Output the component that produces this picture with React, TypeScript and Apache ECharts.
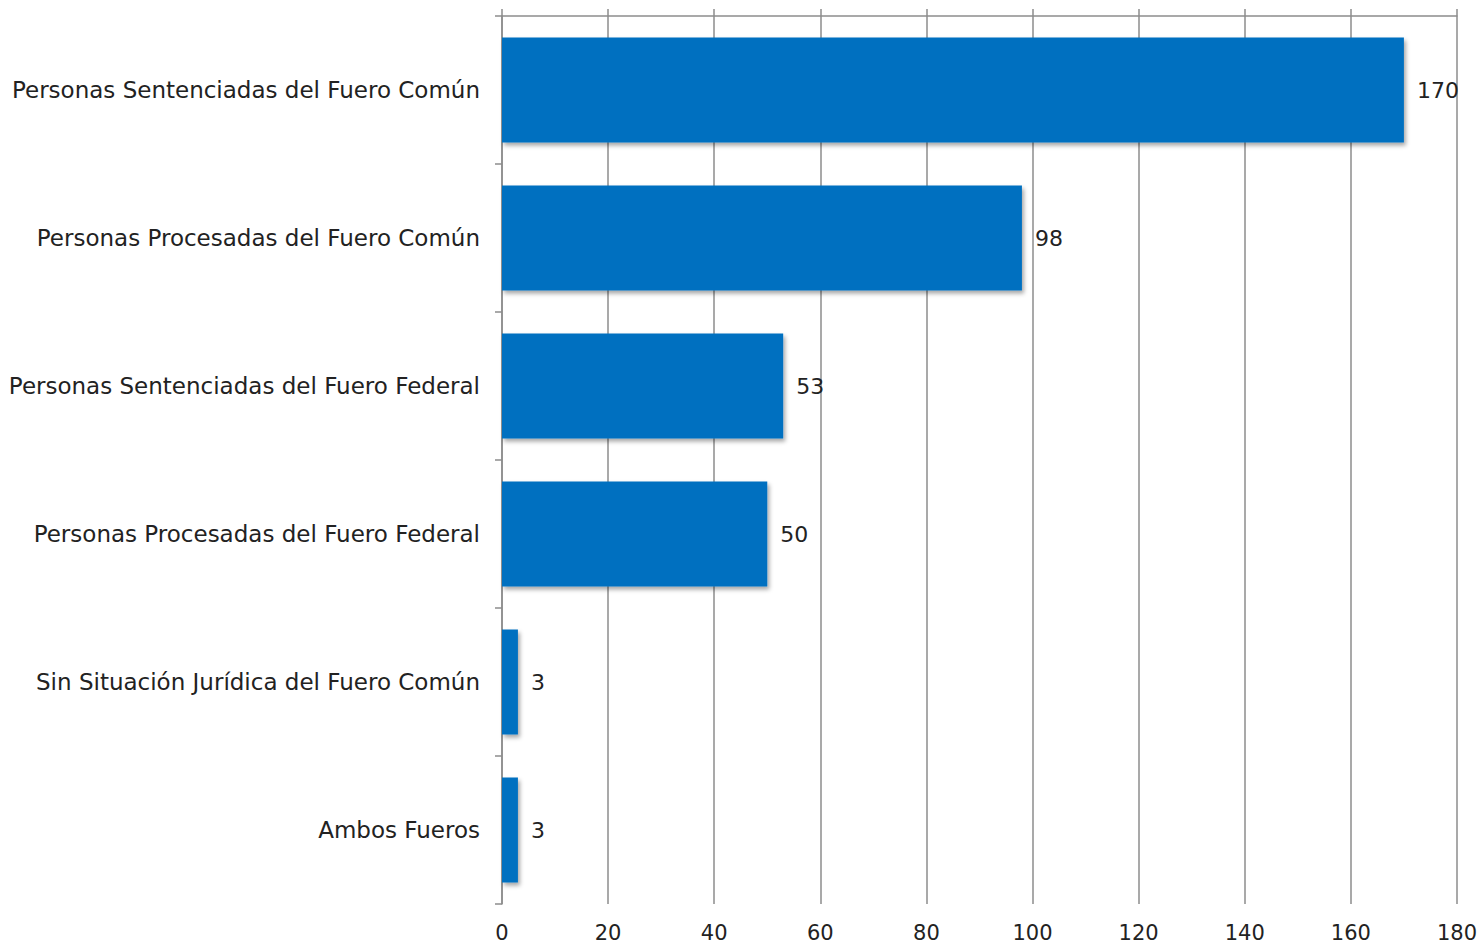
import React, { useEffect, useRef } from "react";
import * as echarts from "echarts";

const categories = [
  "Personas Sentenciadas del Fuero Común",
  "Personas Procesadas del Fuero Común",
  "Personas Sentenciadas del Fuero Federal",
  "Personas Procesadas del Fuero Federal",
  "Sin Situación Jurídica del Fuero Común",
  "Ambos Fueros",
];
const values = [170, 98, 53, 50, 3, 3];
const axisMin = 0;
const axisMax = 180;
const axisStep = 20;

const FONT = "DejaVu Sans";
const LINE = "#8c8c8c";

export default function App() {
  const ref = useRef<HTMLDivElement>(null);
  useEffect(() => {
    const chart = echarts.init(ref.current!, null, { renderer: "svg" });
    chart.setOption({
      animation: false,
      backgroundColor: "#ffffff",
      grid: { left: 502, right: 23, top: 16, bottom: 40, containLabel: false },
      xAxis: [
        {
          type: "value",
          position: "top",
          min: axisMin,
          max: axisMax,
          interval: axisStep,
          axisLine: { show: true, lineStyle: { color: LINE, width: 1.5 } },
          axisTick: { show: true, length: 7, lineStyle: { color: LINE, width: 1.5 } },
          axisLabel: { show: false },
          splitLine: { show: true, lineStyle: { color: LINE, width: 1.5 } },
        },
        {
          type: "value",
          position: "bottom",
          min: axisMin,
          max: axisMax,
          interval: axisStep,
          axisLine: { show: false },
          axisTick: { show: false },
          splitLine: { show: false },
          axisLabel: { show: true, margin: 18, color: "#222", fontSize: 21, fontFamily: FONT },
        },
      ],
      yAxis: {
        type: "category",
        inverse: true,
        data: categories,
        axisLine: { show: true, lineStyle: { color: LINE, width: 1.5 } },
        axisTick: { show: true, length: 7, lineStyle: { color: LINE, width: 1.5 } },
        axisLabel: { margin: 22, color: "#222", fontSize: 23, fontFamily: FONT },
        splitLine: { show: false },
      },
      series: [
        {
          type: "bar",
          xAxisIndex: 0,
          data: values,
          barWidth: 105,
          itemStyle: {
            color: "#0070C0",
            shadowColor: "rgba(0,0,0,0.35)",
            shadowBlur: 4,
            shadowOffsetX: 2,
            shadowOffsetY: 3,
          },
          label: {
            show: true,
            position: "right",
            distance: 13,
            color: "#222",
            fontSize: 22,
            fontFamily: FONT,
          },
        },
      ],
    });
    return () => chart.dispose();
  }, []);
  return <div ref={ref} style={{ width: 1480, height: 944, position: "absolute", left: 0, top: 0 }} />;
}
